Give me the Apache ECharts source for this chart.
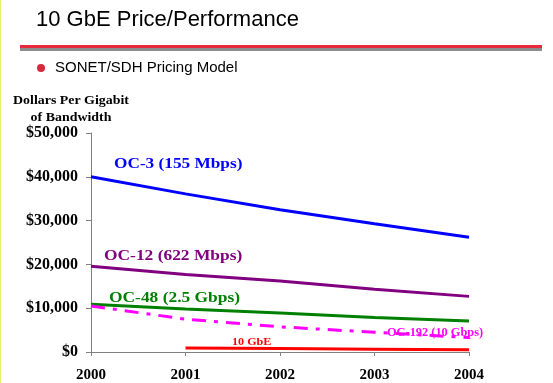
<!DOCTYPE html>
<html><head><meta charset="utf-8">
<script src="https://cdn.jsdelivr.net/npm/echarts@6/dist/echarts.min.js"></script>
<style>html,body{margin:0;padding:0;background:#fff}#c{width:553px;height:383px}</style>
</head><body><div id="c"></div>
<script>
const years = [2000, 2001, 2002, 2003, 2004];
const oc3 = [40000, 36100, 32500, 29300, 26200];
const oc12 = [19600, 17700, 16200, 14300, 12700];
const oc48 = [10900, 9800, 8900, 7900, 7100];
const oc192 = [10500, 7500, 5750, 4500, 3300];
const gbe10Years = [2001, 2002, 2003, 2004];
const gbe10 = [900, 800, 650, 500];
const yTicks = [0, 10000, 20000, 30000, 40000, 50000];

const serif = '"Liberation Serif","Times New Roman",serif';
const sans = '"Liberation Sans",Arial,sans-serif';
const pair = (xs, ys) => xs.map((x, i) => [x, ys[i]]);

const chart = echarts.init(document.getElementById('c'));
chart.setOption({
  animation: false,
  backgroundColor: '#fff',
  grid: {left: 91, right: 84, top: 133, bottom: 30},
  xAxis: {
    type: 'value', min: 2000, max: 2004, interval: 1,
    axisLine: {lineStyle: {color: '#808080', width: 1}},
    axisTick: {show: true, length: 4, inside: false, lineStyle: {color: '#808080'}},
    splitLine: {show: false},
    axisLabel: {color: '#000', fontFamily: serif, fontWeight: 'bold', fontSize: 15, margin: 16,
      formatter: v => String(v)}
  },
  yAxis: {
    type: 'value', min: yTicks[0], max: yTicks[yTicks.length-1], interval: 10000,
    axisLine: {show: true, lineStyle: {color: '#808080', width: 1}},
    axisTick: {show: true, length: 5, lineStyle: {color: '#808080'}},
    splitLine: {show: false},
    axisLabel: {color: '#000', fontFamily: serif, fontWeight: 'bold', fontSize: 16, margin: 13,
      formatter: v => '$' + v.toLocaleString('en-US')}
  },
  series: [
    {type: 'line', data: pair(years, oc3), symbol: 'none', lineStyle: {color: '#0000FF', width: 3}},
    {type: 'line', data: pair(years, oc12), symbol: 'none', lineStyle: {color: '#800080', width: 3}},
    {type: 'line', data: pair(years, oc48), symbol: 'none', lineStyle: {color: '#008000', width: 3}},
    {type: 'line', data: pair(years, oc192), symbol: 'none', lineStyle: {color: '#FF00FF', width: 3, type: [14, 8, 4, 8]}},
    {type: 'line', data: pair(gbe10Years, gbe10), symbol: 'none', lineStyle: {color: '#FF0000', width: 3}}
  ],
  graphic: [
    {type: 'rect', shape: {x: 0, y: 0, width: 1, height: 383}, style: {fill: '#e8f06a'}},
    {type: 'text', left: 36, top: 9, style: {text: '10 GbE Price/Performance', font: '22px ' + sans, fill: '#000'}},
    {type: 'rect', shape: {x: 20, y: 48, width: 522, height: 3}, style: {fill: '#8c8c8c'}},
    {type: 'rect', shape: {x: 20, y: 45, width: 522, height: 3}, style: {fill: '#e8283c'}},
    {type: 'circle', shape: {cx: 41, cy: 68, r: 4}, style: {fill: '#d8283c'}},
    {type: 'text', left: 55, top: 60, style: {text: 'SONET/SDH Pricing Model', font: '15px ' + sans, fill: '#000'}},
    {type: 'text', x: 71, y: 101, scaleX: 1.07, style: {text: 'Dollars Per Gigabit', font: 'bold 13px ' + serif, fill: '#000', align: 'center', verticalAlign: 'middle'}},
    {type: 'text', x: 71, y: 118, scaleX: 1.07, style: {text: 'of Bandwidth', font: 'bold 13px ' + serif, fill: '#000', align: 'center', verticalAlign: 'middle'}},
    {type: 'text', x: 114, y: 164, scaleX: 1.15, style: {text: 'OC-3 (155 Mbps)', font: 'bold 15px ' + serif, fill: '#0000FF', verticalAlign: 'middle'}},
    {type: 'text', x: 104, y: 256, scaleX: 1.16, style: {text: 'OC-12 (622 Mbps)', font: 'bold 15px ' + serif, fill: '#800080', verticalAlign: 'middle'}},
    {type: 'text', x: 109, y: 298, scaleX: 1.16, style: {text: 'OC-48 (2.5 Gbps)', font: 'bold 15px ' + serif, fill: '#008000', verticalAlign: 'middle'}},
    {type: 'text', x: 387, y: 333, scaleX: 1.03, style: {text: 'OC-192 (10 Gbps)', font: 'bold 12px ' + serif, fill: '#FF00FF', verticalAlign: 'middle'}},
    {type: 'text', x: 232, y: 342, scaleX: 1.1, style: {text: '10 GbE', font: 'bold 11px ' + serif, fill: '#FF0000', verticalAlign: 'middle'}}
  ]
});
</script></body></html>
